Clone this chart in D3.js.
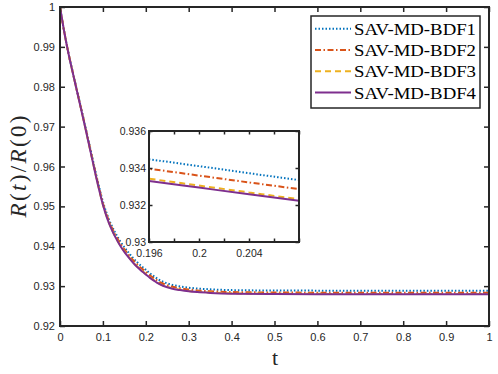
<!DOCTYPE html>
<html>
<head>
<meta charset="utf-8">
<script src="https://cdn.jsdelivr.net/npm/d3@7"></script>
<style>
  body { margin: 0; background: #fff; }
  svg { display: block; }
  .tick text { font-family: "Liberation Sans", Arial, sans-serif; fill: #262626; }
</style>
</head>
<body>
<svg width="498" height="374"></svg>
<script>
// time samples (t)
var times = [0, 0.01, 0.02, 0.03, 0.04, 0.05, 0.06, 0.07, 0.08, 0.09, 0.10, 0.11, 0.12, 0.13, 0.14,
  0.15, 0.16, 0.17, 0.18, 0.19, 0.196, 0.2, 0.204, 0.208, 0.21, 0.22, 0.23, 0.24, 0.25, 0.26,
  0.28, 0.30, 0.32, 0.35, 0.40, 0.50, 0.60, 0.70, 0.80, 0.90, 1.0];

// R(t)/R(0) for each scheme
var bdf1 = [1.0, 0.99373, 0.9883, 0.98355, 0.9789, 0.9743, 0.9696, 0.9648, 0.9600, 0.9554, 0.9512,
  0.9479, 0.9453, 0.94315, 0.9413, 0.93975, 0.93838, 0.93708, 0.93598, 0.93498, 0.93447, 0.93410,
  0.93372, 0.93335, 0.93318, 0.9324, 0.93165, 0.9311, 0.93068, 0.93035, 0.92992, 0.9296, 0.9294,
  0.9292, 0.9290, 0.9289, 0.92887, 0.92886, 0.92885, 0.92885, 0.92885];
var bdf2 = [1.0, 0.99372, 0.98826, 0.98348, 0.97881, 0.97417, 0.96942, 0.96458, 0.95973, 0.95509,
  0.95085, 0.94750, 0.94486, 0.94269, 0.94082, 0.93924, 0.93786, 0.93656, 0.93546, 0.93446, 0.93396,
  0.93359, 0.93322, 0.93286, 0.93268, 0.93190, 0.93118, 0.93065, 0.93023, 0.92990, 0.92948, 0.92915,
  0.92893, 0.92872, 0.92852, 0.92840, 0.92836, 0.92835, 0.92835, 0.92835, 0.92835];
var bdf3 = [1.0, 0.99370, 0.98821, 0.98342, 0.97873, 0.97403, 0.96923, 0.96434, 0.95945, 0.95476,
  0.95047, 0.94708, 0.94440, 0.94220, 0.94031, 0.93872, 0.93732, 0.93602, 0.93492, 0.93392, 0.93342,
  0.93305, 0.93268, 0.93232, 0.93216, 0.93140, 0.93070, 0.93020, 0.92980, 0.92950, 0.92910, 0.92880,
  0.92860, 0.92840, 0.92820, 0.92810, 0.92806, 0.92805, 0.92805, 0.92805, 0.92805];
var bdf4 = [1.0, 0.9937, 0.9882, 0.9834, 0.9787, 0.9740, 0.9692, 0.9643, 0.9594, 0.9547, 0.9504,
  0.9470, 0.9443, 0.9421, 0.9402, 0.9386, 0.9372, 0.9359, 0.9348, 0.9338, 0.93330, 0.93294, 0.93258,
  0.93223, 0.93206, 0.9313, 0.9306, 0.9301, 0.9297, 0.9294, 0.9290, 0.9287, 0.9285, 0.9283, 0.9281,
  0.9280, 0.92797, 0.92796, 0.92795, 0.92795, 0.92795];

var names = ["SAV-MD-BDF1", "SAV-MD-BDF2", "SAV-MD-BDF3", "SAV-MD-BDF4"];

var xTicks = [0, 0.1, 0.2, 0.3, 0.4, 0.5, 0.6, 0.7, 0.8, 0.9, 1];
var yTicks = [0.92, 0.93, 0.94, 0.95, 0.96, 0.97, 0.98, 0.99, 1];
var insetXTicks = [0.196, 0.198, 0.2, 0.202, 0.204, 0.206, 0.208];
var insetXLabels = [0.196, 0.2, 0.204];
var insetYTicks = [0.93, 0.932, 0.934, 0.936];

var series = [
  { name: names[0], values: bdf1, color: "#0072BD", dash: "1.5,2" },
  { name: names[1], values: bdf2, color: "#D95319", dash: "6,2.5,1.5,2.5" },
  { name: names[2], values: bdf3, color: "#EDB120", dash: "6,4" },
  { name: names[3], values: bdf4, color: "#7E2F8E", dash: null }
];

var svg = d3.select("svg");
var axisColor = "#262626";

// main axes
var x = d3.scaleLinear().domain([0, 1]).range([60, 489]);
var y = d3.scaleLinear().domain([0.92, 1]).range([326, 7]);

function fmt(d) { return String(+d.toFixed(4)); }

function drawLines(g, sx, sy, clipId) {
  var line = d3.line()
      .x(function(d) { return sx(d[0]); })
      .y(function(d) { return sy(d[1]); })
      .curve(d3.curveMonotoneX);
  g.selectAll("path.series")
      .data(series)
    .enter().append("path")
      .attr("class", "series")
      .attr("clip-path", clipId ? "url(#" + clipId + ")" : null)
      .attr("fill", "none")
      .attr("stroke", function(s) { return s.color; })
      .attr("stroke-width", 2)
      .attr("stroke-dasharray", function(s) { return s.dash; })
      .attr("d", function(s) { return line(times.map(function(t, i) { return [t, s.values[i]]; })); });
}

function drawBox(sx, sy, xt, yt, xl, fs, tickLen, padX, padY) {
  var g = svg.append("g");
  var x0 = sx.range()[0], x1 = sx.range()[1], y0 = sy.range()[0], y1 = sy.range()[1];

  // ticks on all four sides, pointing inward
  g.append("g").attr("transform", "translate(0," + y0 + ")")
      .call(d3.axisBottom(sx).tickValues(xt).tickSizeInner(-tickLen).tickSizeOuter(0)
        .tickPadding(padX).tickFormat(function(d) { return xl.indexOf(d) >= 0 ? fmt(d) : ""; }));
  g.append("g").attr("transform", "translate(0," + y1 + ")")
      .call(d3.axisTop(sx).tickValues(xt).tickSizeInner(-tickLen).tickSizeOuter(0).tickFormat(""));
  g.append("g").attr("transform", "translate(" + x0 + ",0)")
      .call(d3.axisLeft(sy).tickValues(yt).tickSizeInner(-tickLen).tickSizeOuter(0)
        .tickPadding(padY).tickFormat(fmt));
  g.append("g").attr("transform", "translate(" + x1 + ",0)")
      .call(d3.axisRight(sy).tickValues(yt).tickSizeInner(-tickLen).tickSizeOuter(0).tickFormat(""));

  g.selectAll(".domain").remove();
  g.selectAll(".tick line").attr("stroke", axisColor).attr("stroke-width", 1.5);
  g.selectAll(".tick text").style("font-size", fs + "px");

  g.append("rect")
      .attr("x", x0).attr("y", y1)
      .attr("width", x1 - x0).attr("height", y0 - y1)
      .attr("fill", "none")
      .attr("stroke", axisColor)
      .attr("stroke-width", 2);
  return g;
}

// main plot
svg.append("defs").append("clipPath").attr("id", "clipMain")
  .append("rect").attr("x", 60).attr("y", 7).attr("width", 429).attr("height", 319);
drawLines(svg.append("g"), x, y, "clipMain");
drawBox(x, y, xTicks, yTicks, xTicks, 11, 5, 7, 5);

// axis labels
svg.append("text")
    .attr("x", 275).attr("y", 365)
    .attr("text-anchor", "middle")
    .style("font-family", "'Liberation Serif', 'Times New Roman', serif")
    .style("font-size", "22px")
    .style("fill", axisColor)
    .text("t");

var yl = svg.append("text")
    .attr("transform", "translate(26,166.5) rotate(-90)")
    .attr("text-anchor", "middle")
    .attr("textLength", 102)
    .attr("lengthAdjust", "spacing")
    .style("font-family", "'Liberation Serif', 'Times New Roman', serif")
    .style("font-size", "23px")
    .style("fill", axisColor);
yl.append("tspan").style("font-style", "italic").text("R");
yl.append("tspan").text("(");
yl.append("tspan").style("font-style", "italic").text("t");
yl.append("tspan").text(")/");
yl.append("tspan").style("font-style", "italic").text("R");
yl.append("tspan").text("(0)");

// inset
var ix = d3.scaleLinear().domain([0.196, 0.208]).range([149, 299]);
var iy = d3.scaleLinear().domain([0.93, 0.936]).range([242, 131]);
svg.append("rect").attr("x", 149).attr("y", 131).attr("width", 150).attr("height", 111).attr("fill", "#fff");
svg.select("defs").append("clipPath").attr("id", "clipInset")
  .append("rect").attr("x", 149).attr("y", 131).attr("width", 150).attr("height", 111);
drawLines(svg.append("g"), ix, iy, "clipInset");
drawBox(ix, iy, insetXTicks, insetYTicks, insetXLabels, 10.5, 3.5, 7.5, 3);

// legend
var lg = svg.append("g");
lg.append("rect")
    .attr("x", 311).attr("y", 16)
    .attr("width", 169).attr("height", 92)
    .attr("fill", "#fff")
    .attr("stroke", axisColor)
    .attr("stroke-width", 1.5);
var rows = lg.selectAll("g.row")
    .data(series)
  .enter().append("g")
    .attr("class", "row")
    .attr("transform", function(s, i) { return "translate(0," + (28.7 + i * 21.3) + ")"; });
rows.append("line")
    .attr("x1", 315).attr("x2", 351)
    .attr("stroke", function(s) { return s.color; })
    .attr("stroke-width", 2)
    .attr("stroke-dasharray", function(s) { return s.dash; });
rows.append("text")
    .attr("x", 354).attr("y", 6)
    .attr("textLength", 122)
    .attr("lengthAdjust", "spacingAndGlyphs")
    .style("font-family", "'Liberation Serif', 'Times New Roman', serif")
    .style("font-size", "17px")
    .style("fill", "#000")
    .text(function(s) { return s.name; });
</script>
</body>
</html>
